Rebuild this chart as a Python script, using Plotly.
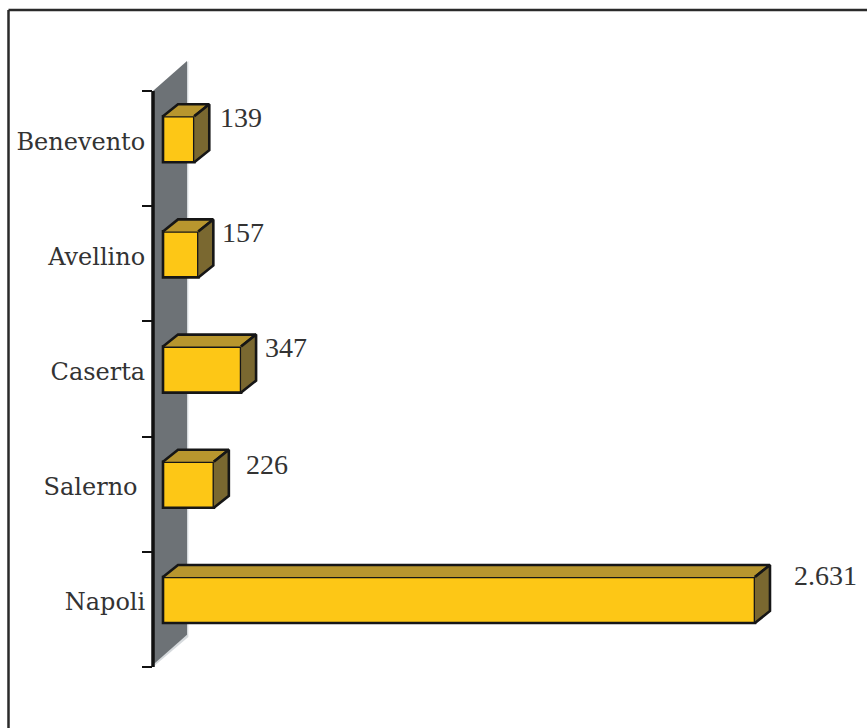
import plotly.graph_objects as go

# Province della Campania, bottom to top
categories = ["Napoli", "Salerno\u00a0", "Caserta", "Avellino", "Benevento"]
values = [2631, 226, 347, 157, 139]
value_labels = ["2.631", "226", "347", "157", "139"]

W, H = 867, 728
AXIS_LEFT, PLOT_TOP, PLOT_BOTTOM = 153, 40, 700   # plot area leaves room for the wall's slant
AXIS_TOP, AXIS_BOTTOM = 91, 667
PX_PER_UNIT = 0.225
PX_PER_CAT = 115.2
ZERO_OFFSET = 10 / PX_PER_UNIT         # gap between the wall front and the bar base

DEPTH_X = 15 / PX_PER_UNIT             # bar extrusion
DEPTH_Y = 12 / PX_PER_CAT
HALF = 23 / PX_PER_CAT                 # half the bar thickness
WALL_X = 34 / PX_PER_UNIT              # wall extrusion
WALL_Y = 30 / PX_PER_CAT
LABEL_DROP = 2 / PX_PER_CAT            # category names sit just under the bar centre

y_low = -67 / PX_PER_CAT
y_high = y_low + (AXIS_BOTTOM - AXIS_TOP) / PX_PER_CAT
boundaries = [y_low + i for i in range(6)]
x_low = -ZERO_OFFSET
x_high = x_low + (W - AXIS_LEFT) / PX_PER_UNIT
range_low = y_low - (PLOT_BOTTOM - AXIS_BOTTOM) / PX_PER_CAT
range_high = y_high + (AXIS_TOP - PLOT_TOP) / PX_PER_CAT

FRONT, TOP, SIDE, EDGE = "#fdc716", "#b8962e", "#7a6830", "#161616"
WALL, WALL_SHADE = "#6d7276", "#d5d9dc"
TICK_FONT = "DejaVu Serif"
VALUE_FONT = "Liberation Serif"
TEXT = "#333333"
EDGE_W = 2.6

fig = go.Figure()

# Top and side faces sit behind the front bars
ys = list(range(len(values)))
for i, v in zip(ys, values):
    fig.add_trace(go.Scatter(
        x=[0, DEPTH_X, v + DEPTH_X, v], y=[i + HALF, i + HALF + DEPTH_Y, i + HALF + DEPTH_Y, i + HALF],
        fill="toself", fillcolor=TOP, mode="lines", line=dict(color=EDGE, width=EDGE_W), hoverinfo="skip"))
    fig.add_trace(go.Scatter(
        x=[v, v + DEPTH_X, v + DEPTH_X, v], y=[i + HALF, i + HALF + DEPTH_Y, i - HALF + DEPTH_Y, i - HALF],
        fill="toself", fillcolor=SIDE, mode="lines", line=dict(color=EDGE, width=EDGE_W), hoverinfo="skip"))

fig.add_trace(go.Bar(
    x=values, y=ys, orientation="h", width=2 * HALF,
    marker=dict(color=FRONT, line=dict(color=EDGE, width=EDGE_W)), hoverinfo="skip"))

# Grey back wall, with a pale rim along its lower and right edges
fig.add_shape(type="path", xref="x", yref="y", layer="below", line_width=0, fillcolor=WALL_SHADE,
              path=f"M {x_low} {y_low} L {x_low + WALL_X + 6} {y_low + WALL_Y} "
                   f"L {x_low + WALL_X + 6} {y_high + WALL_Y} L {x_low} {y_high} Z")
fig.add_shape(type="path", xref="x", yref="y", layer="below", line_width=0, fillcolor=WALL,
              path=f"M {x_low} {y_low + 0.02} L {x_low + WALL_X} {y_low + WALL_Y + 0.02} "
                   f"L {x_low + WALL_X} {y_high + WALL_Y} L {x_low} {y_high} Z")

# Category axis line, stopping at the outer ticks
fig.add_shape(type="line", xref="paper", yref="y", x0=0, x1=0, y0=y_low, y1=y_high,
              line=dict(color="#111111", width=3.5))

# Value labels up and to the right of each bar
label_dx = {"2.631": 22, "226": 15, "347": 7, "157": 7, "139": 9}
label_dy = {"2.631": 25, "226": 20, "347": 22, "157": 22, "139": 22}
for i, v, t in zip(ys, values, value_labels):
    fig.add_annotation(x=v + DEPTH_X, y=i, text=t, showarrow=False, xanchor="left",
                       xshift=label_dx[t], yshift=label_dy[t],
                       font=dict(family=VALUE_FONT, size=28, color=TEXT))

# Frame runs along the top and left only, past the page edges
to_x = lambda px: (px - AXIS_LEFT) / (W - AXIS_LEFT)
to_y = lambda py: (PLOT_BOTTOM - py) / (PLOT_BOTTOM - PLOT_TOP)
frame = dict(color="#2a2a2a", width=2.5)
fig.add_shape(type="line", xref="paper", yref="paper", x0=to_x(8.5), x1=to_x(8.5), y0=to_y(10), y1=to_y(730), line=frame)
fig.add_shape(type="line", xref="paper", yref="paper", x0=to_x(8.5), x1=to_x(869), y0=to_y(10), y1=to_y(10), line=frame)

fig.update_layout(
    width=W, height=H, showlegend=False, paper_bgcolor="white", plot_bgcolor="rgba(0,0,0,0)",
    margin=dict(l=AXIS_LEFT, r=0, t=PLOT_TOP, b=H - PLOT_BOTTOM, pad=0),
    xaxis=dict(range=[x_low, x_high], visible=False),
    yaxis=dict(range=[range_low, range_high], tickmode="array",
               tickvals=[i - LABEL_DROP for i in ys], ticktext=categories,
               ticks="outside", ticklen=2, tickcolor="rgba(0,0,0,0)", showgrid=False, zeroline=False,
               showline=False,
               tickfont=dict(family=TICK_FONT, size=24, color=TEXT),
               minor=dict(tickmode="array", tickvals=boundaries, ticks="outside", ticklen=10,
                          tickwidth=2, tickcolor="#111111", showgrid=False)),
)
fig.write_html("out.html")
